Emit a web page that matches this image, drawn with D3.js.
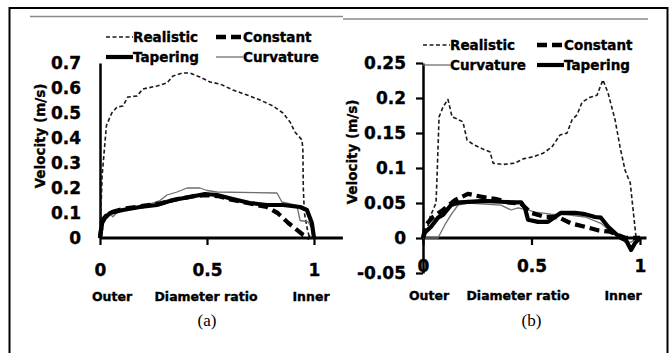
<!DOCTYPE html>
<html>
<head>
<meta charset="utf-8">
<script src="https://cdn.jsdelivr.net/npm/d3@7"></script>
<style>
  html, body { margin: 0; padding: 0; background: #fff; }
  svg { display: block; }
  .lbl { font-family: "DejaVu Sans", sans-serif; font-weight: bold; fill: #000; stroke: #000; stroke-width: 0.35; }
</style>
</head>
<body>
<svg id="chart" width="671" height="353"></svg>
<script>
// ---- data ----
// panel (a)
const realisticA = [[0,0],[0.01,0.25],[0.03,0.45],[0.055,0.5],[0.08,0.524],[0.107,0.528],[0.13,0.564],[0.173,0.568],[0.2,0.596],[0.266,0.608],[0.313,0.62],[0.341,0.648],[0.383,0.66],[0.42,0.66],[0.467,0.644],[0.514,0.624],[0.561,0.616],[0.621,0.592],[0.687,0.572],[0.748,0.552],[0.808,0.528],[0.855,0.5],[0.888,0.464],[0.911,0.424],[0.944,0.392],[0.948,0.352],[0.95,0.2],[0.955,0.1],[0.97,0.03],[0.98,0]];
const constantA = [[0,0],[0.01,0.07],[0.03,0.09],[0.06,0.105],[0.12,0.118],[0.2,0.128],[0.28,0.138],[0.36,0.155],[0.44,0.168],[0.49,0.172],[0.55,0.168],[0.62,0.152],[0.7,0.138],[0.78,0.124],[0.83,0.1],[0.88,0.06],[0.95,0.012],[0.98,0]];
const taperingA = [[0,0],[0.01,0.06],[0.023,0.08],[0.047,0.1],[0.107,0.112],[0.187,0.124],[0.266,0.132],[0.341,0.152],[0.42,0.164],[0.49,0.176],[0.547,0.172],[0.62,0.156],[0.7,0.14],[0.78,0.132],[0.855,0.132],[0.935,0.124],[0.967,0.112],[0.99,0.06],[1.0,0]];
const curvatureA = [[0,0],[0.014,0.07],[0.04,0.1],[0.06,0.085],[0.09,0.11],[0.19,0.124],[0.28,0.15],[0.313,0.172],[0.36,0.184],[0.407,0.2],[0.467,0.2],[0.5,0.19],[0.547,0.184],[0.827,0.18],[0.85,0.144],[0.92,0.13],[0.935,0.07],[0.972,0.065],[0.99,0.04],[1.0,0]];

// panel (b)
const realisticB = [[0,0],[0.018,0.01],[0.032,0.03],[0.06,0.05],[0.065,0.09],[0.074,0.173],[0.092,0.187],[0.115,0.198],[0.134,0.173],[0.157,0.17],[0.184,0.166],[0.203,0.14],[0.23,0.134],[0.276,0.127],[0.309,0.123],[0.323,0.107],[0.369,0.105],[0.424,0.107],[0.461,0.113],[0.507,0.116],[0.553,0.121],[0.594,0.13],[0.631,0.147],[0.664,0.15],[0.687,0.169],[0.71,0.176],[0.733,0.194],[0.77,0.201],[0.802,0.204],[0.829,0.226],[0.853,0.207],[0.885,0.169],[0.908,0.13],[0.931,0.097],[0.945,0.086],[0.955,0.079],[0.982,0]];
const constantB = [[0,0],[0.014,0.019],[0.046,0.03],[0.092,0.04],[0.147,0.054],[0.207,0.063],[0.267,0.059],[0.332,0.056],[0.392,0.051],[0.452,0.049],[0.498,0.036],[0.562,0.03],[0.622,0.03],[0.682,0.021],[0.747,0.016],[0.806,0.011],[0.862,0.009],[0.899,0.004],[0.935,0],[1.0,0]];
const taperingB = [[0,0],[0.009,0.008],[0.037,0.016],[0.069,0.029],[0.092,0.033],[0.129,0.047],[0.171,0.051],[0.286,0.053],[0.406,0.051],[0.452,0.051],[0.47,0.043],[0.484,0.026],[0.53,0.023],[0.576,0.023],[0.608,0.03],[0.636,0.036],[0.7,0.036],[0.747,0.034],[0.793,0.03],[0.82,0.029],[0.853,0.016],[0.885,0.007],[0.912,0],[0.935,-0.003],[0.959,-0.017],[0.977,-0.007],[1.0,0]];
const curvatureB = [[0,0],[0.069,0],[0.101,0.019],[0.129,0.033],[0.161,0.047],[0.207,0.05],[0.359,0.047],[0.406,0.04],[0.438,0.043],[0.484,0.04],[0.516,0.037],[0.59,0.034],[0.668,0.033],[0.747,0.03],[0.82,0.021],[0.866,0.009],[0.899,0.004],[0.931,-0.006],[0.959,-0.006],[0.982,0]];

// ticks
const xTicks = [0, 0.5, 1];
const xTickLabels = ["0", "0.5", "1"];
const yTicksA = [0, 0.1, 0.2, 0.3, 0.4, 0.5, 0.6, 0.7];
const yTickLabelsA = ["0", "0.1", "0.2", "0.3", "0.4", "0.5", "0.6", "0.7"];
const yTicksB = [-0.05, 0, 0.05, 0.1, 0.15, 0.2, 0.25];
const yTickLabelsB = ["-0.05", "0", "0.05", "0.1", "0.15", "0.2", "0.25"];

const legendOrderA = ["Realistic", "Constant", "Tapering", "Curvature"];
const legendOrderB = ["Realistic", "Constant", "Curvature", "Tapering"];

const STYLE = {
  Realistic: { stroke: "#1a1a1a", width: 1.6, dash: "4,2.5" },
  Constant:  { stroke: "#000", width: 4.3, dash: "10,5" },
  Tapering:  { stroke: "#000", width: 4.2, dash: null },
  Curvature: { stroke: "#6e6e6e", width: 1.3, dash: null }
};

const svg = d3.select("#chart");

// frame and the two grey rules at the top
svg.append("rect").attr("x", 9.5).attr("y", 8).attr("width", 658).attr("height", 360)
  .attr("fill", "none").attr("stroke", "#000").attr("stroke-width", 2);
svg.append("line").attr("x1", 30).attr("x2", 343).attr("y1", 16.5).attr("y2", 16.5)
  .attr("stroke", "#8a8a8a").attr("stroke-width", 1.3);
svg.append("line").attr("x1", 343).attr("x2", 648).attr("y1", 19).attr("y2", 19)
  .attr("stroke", "#8a8a8a").attr("stroke-width", 1.3);

function drawPanel(cfg) {
  const g = svg.append("g");
  const x = d3.scaleLinear().domain([0, 1]).range(cfg.xRange);
  const y = d3.scaleLinear().domain(cfg.yDomain).range(cfg.yRange);

  // y axis
  const yAxis = d3.axisLeft(y).tickValues(cfg.yTicks)
    .tickFormat((d, i) => cfg.yLabels[i])
    .tickSize(cfg.yTickSize).tickSizeOuter(0).tickPadding(cfg.yPad);
  const ya = g.append("g").attr("transform", `translate(${x(0)},0)`).call(yAxis);
  ya.select(".domain").attr("stroke-width", 2.5);
  ya.selectAll(".tick line").attr("stroke-width", 2.2);
  ya.selectAll("text").attr("class", "lbl").attr("font-size", 17).attr("font-family", null);

  // x axis
  const xAxis = d3.axisBottom(x).tickValues(xTicks)
    .tickFormat((d, i) => xTickLabels[i])
    .tickSize(7).tickSizeOuter(0).tickPadding(cfg.xPad);
  const xa = g.append("g").attr("transform", `translate(0,${y(0)})`).call(xAxis);
  xa.select(".domain").attr("d", `M${x(0)},0H${x(cfg.xEnd)}`).attr("stroke-width", 2.8);
  xa.selectAll(".tick line").attr("stroke-width", 2.2);
  xa.selectAll("text").attr("class", "lbl").attr("font-size", 17).attr("font-family", null);

  // series
  const line = d3.line().x(d => x(d[0])).y(d => y(d[1]));
  cfg.order.forEach(name => {
    const s = STYLE[name];
    g.append("path").datum(cfg.data[name]).attr("d", line)
      .attr("fill", "none").attr("stroke", s.stroke).attr("stroke-width", s.width)
      .attr("stroke-dasharray", s.dash).attr("stroke-linejoin", "round");
  });

  // legend
  cfg.legend.forEach((name, i) => {
    const lx = cfg.legX[i % 2], ly = cfg.legY[Math.floor(i / 2)];
    const s = STYLE[name];
    g.append("line").attr("x1", lx).attr("x2", lx + 27).attr("y1", ly).attr("y2", ly)
      .attr("stroke", s.stroke).attr("stroke-width", s.width).attr("stroke-dasharray", s.dash);
    g.append("text").attr("class", "lbl").attr("font-size", 13.5)
      .attr("x", lx + 27).attr("y", ly).attr("dy", "0.36em").text(name);
  });

  // axis titles
  g.append("text").attr("class", "lbl").attr("font-size", 13.5).attr("text-anchor", "middle")
    .attr("transform", `translate(${cfg.yTitle[0]},${cfg.yTitle[1]}) rotate(-90)`)
    .text("Velocity (m/s)");
  const ty = cfg.xTitleY;
  ["Outer", "Diameter ratio", "Inner"].forEach((t, i) => {
    g.append("text").attr("class", "lbl").attr("font-size", 12.5).attr("text-anchor", "middle")
      .attr("x", cfg.xTitleX[i]).attr("y", ty).text(t);
  });

  g.append("text").attr("font-family", "Liberation Serif, serif").attr("font-size", 17)
    .attr("text-anchor", "middle").attr("x", x(0.5)).attr("y", 326).text(cfg.caption);
}

drawPanel({
  xRange: [100, 314], xEnd: 1.135,
  yDomain: [0, 0.7], yRange: [238, 63],
  yTicks: yTicksA, yLabels: yTickLabelsA, yTickSize: 0, yPad: 19, xPad: 19,
  data: { Realistic: realisticA, Constant: constantA, Tapering: taperingA, Curvature: curvatureA },
  order: ["Realistic", "Curvature", "Constant", "Tapering"],
  legend: legendOrderA, legX: [106, 216], legY: [37, 57],
  yTitle: [45, 136], xTitleY: 301, xTitleX: [112, 206, 311],
  caption: "(a)"
});

drawPanel({
  xRange: [423, 640], xEnd: 1.03,
  yDomain: [-0.05, 0.25], yRange: [273, 63],
  yTicks: yTicksB, yLabels: yTickLabelsB, yTickSize: 7, yPad: 10, xPad: 15,
  data: { Realistic: realisticB, Constant: constantB, Tapering: taperingB, Curvature: curvatureB },
  order: ["Realistic", "Curvature", "Constant", "Tapering"],
  legend: legendOrderB, legX: [423, 537], legY: [45, 65],
  yTitle: [357, 152], xTitleY: 300, xTitleX: [429, 518, 623],
  caption: "(b)"
});
</script>
</body>
</html>
